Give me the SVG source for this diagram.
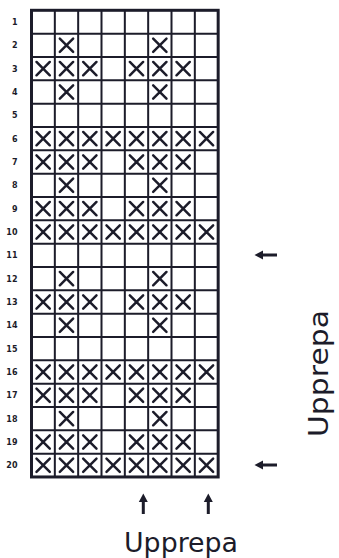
<svg xmlns="http://www.w3.org/2000/svg" xmlns:xlink="http://www.w3.org/1999/xlink" width="339" height="558" viewBox="0 0 339 558">
<style>
.ln{stroke:#1c1c2a;fill:none}
.x{stroke:#1c1c2a;stroke-width:2.5;fill:none;stroke-linecap:round}
.num{font-family:"DejaVu Sans","Liberation Sans",sans-serif;font-size:8px;font-weight:bold;fill:#1c1c2a;text-anchor:end}
.big{font-family:"DejaVu Sans","Liberation Sans",sans-serif;font-size:26px;fill:#1c1c2a}
.ar{fill:#1c1c2a}
</style>
<defs>
<path id="x" class="x" d="M5 5L18.3 18.3M18.3 5L5 18.3"/>
</defs>
<rect width="339" height="558" fill="#fff"/>
<g id="chart" transform="translate(31.5,10.3)">
<g id="grid">
<path class="ln" stroke-width="2" d="M23.33 0V466.67M46.67 0V466.67M70 0V466.67M93.33 0V466.67M116.67 0V466.67M140 0V466.67M163.33 0V466.67M0 23.33H186.67M0 46.67H186.67M0 70H186.67M0 93.33H186.67M0 116.67H186.67M0 140H186.67M0 163.33H186.67M0 186.67H186.67M0 210H186.67M0 233.33H186.67M0 256.67H186.67M0 280H186.67M0 303.33H186.67M0 326.67H186.67M0 350H186.67M0 373.33H186.67M0 396.67H186.67M0 420H186.67M0 443.33H186.67"/>
<rect class="ln" stroke-width="3" x="0" y="0" width="186.67" height="466.67"/>
</g>
<g id="marks">
<g transform="translate(0,23.33)"><use href="#x" x="23.33"/><use href="#x" x="116.67"/></g>
<g transform="translate(0,46.67)"><use href="#x" x="0"/><use href="#x" x="23.33"/><use href="#x" x="46.67"/><use href="#x" x="93.33"/><use href="#x" x="116.67"/><use href="#x" x="140"/></g>
<g transform="translate(0,70)"><use href="#x" x="23.33"/><use href="#x" x="116.67"/></g>
<g transform="translate(0,116.67)"><use href="#x" x="0"/><use href="#x" x="23.33"/><use href="#x" x="46.67"/><use href="#x" x="70"/><use href="#x" x="93.33"/><use href="#x" x="116.67"/><use href="#x" x="140"/><use href="#x" x="163.33"/></g>
<g transform="translate(0,140)"><use href="#x" x="0"/><use href="#x" x="23.33"/><use href="#x" x="46.67"/><use href="#x" x="93.33"/><use href="#x" x="116.67"/><use href="#x" x="140"/></g>
<g transform="translate(0,163.33)"><use href="#x" x="23.33"/><use href="#x" x="116.67"/></g>
<g transform="translate(0,186.67)"><use href="#x" x="0"/><use href="#x" x="23.33"/><use href="#x" x="46.67"/><use href="#x" x="93.33"/><use href="#x" x="116.67"/><use href="#x" x="140"/></g>
<g transform="translate(0,210)"><use href="#x" x="0"/><use href="#x" x="23.33"/><use href="#x" x="46.67"/><use href="#x" x="70"/><use href="#x" x="93.33"/><use href="#x" x="116.67"/><use href="#x" x="140"/><use href="#x" x="163.33"/></g>
<g transform="translate(0,256.67)"><use href="#x" x="23.33"/><use href="#x" x="116.67"/></g>
<g transform="translate(0,280)"><use href="#x" x="0"/><use href="#x" x="23.33"/><use href="#x" x="46.67"/><use href="#x" x="93.33"/><use href="#x" x="116.67"/><use href="#x" x="140"/></g>
<g transform="translate(0,303.33)"><use href="#x" x="23.33"/><use href="#x" x="116.67"/></g>
<g transform="translate(0,350)"><use href="#x" x="0"/><use href="#x" x="23.33"/><use href="#x" x="46.67"/><use href="#x" x="70"/><use href="#x" x="93.33"/><use href="#x" x="116.67"/><use href="#x" x="140"/><use href="#x" x="163.33"/></g>
<g transform="translate(0,373.33)"><use href="#x" x="0"/><use href="#x" x="23.33"/><use href="#x" x="46.67"/><use href="#x" x="93.33"/><use href="#x" x="116.67"/><use href="#x" x="140"/></g>
<g transform="translate(0,396.67)"><use href="#x" x="23.33"/><use href="#x" x="116.67"/></g>
<g transform="translate(0,420)"><use href="#x" x="0"/><use href="#x" x="23.33"/><use href="#x" x="46.67"/><use href="#x" x="93.33"/><use href="#x" x="116.67"/><use href="#x" x="140"/></g>
<g transform="translate(0,443.33)"><use href="#x" x="0"/><use href="#x" x="23.33"/><use href="#x" x="46.67"/><use href="#x" x="70"/><use href="#x" x="93.33"/><use href="#x" x="116.67"/><use href="#x" x="140"/><use href="#x" x="163.33"/></g>
</g>
</g>
<g id="row-labels">
<text class="num" x="17.5" y="24.9">1</text>
<text class="num" x="17.5" y="48.3">2</text>
<text class="num" x="17.5" y="71.6">3</text>
<text class="num" x="17.5" y="94.9">4</text>
<text class="num" x="17.5" y="118.3">5</text>
<text class="num" x="17.5" y="141.6">6</text>
<text class="num" x="17.5" y="164.9">7</text>
<text class="num" x="17.5" y="188.3">8</text>
<text class="num" x="17.5" y="211.6">9</text>
<text class="num" x="17.5" y="234.9">10</text>
<text class="num" x="17.5" y="258.3">11</text>
<text class="num" x="17.5" y="281.6">12</text>
<text class="num" x="17.5" y="304.9">13</text>
<text class="num" x="17.5" y="328.3">14</text>
<text class="num" x="17.5" y="351.6">15</text>
<text class="num" x="17.5" y="374.9">16</text>
<text class="num" x="17.5" y="398.3">17</text>
<text class="num" x="17.5" y="421.6">18</text>
<text class="num" x="17.5" y="444.9">19</text>
<text class="num" x="17.5" y="468.3">20</text>
</g>
<g id="connectors">
<path class="ln" stroke-width="3" d="M261 255H277M261 465H277M143.3 500V514M208.3 500V514"/>
<polygon class="ar" points="254.5,255 263,250.5 263,259.5"/>
<polygon class="ar" points="254.5,465 263,460.5 263,469.5"/>
<polygon class="ar" points="143.3,493.5 138.8,502 147.8,502"/>
<polygon class="ar" points="208.3,493.5 203.8,502 212.8,502"/>
</g>
<g id="label-bottom"><text class="big" x="124" y="552" textLength="114" lengthAdjust="spacingAndGlyphs">Upprepa</text></g>
<g id="label-right"><text class="big" transform="translate(328,437) rotate(-90)" x="0" y="0" textLength="127" lengthAdjust="spacingAndGlyphs">Upprepa</text></g>
</svg>
